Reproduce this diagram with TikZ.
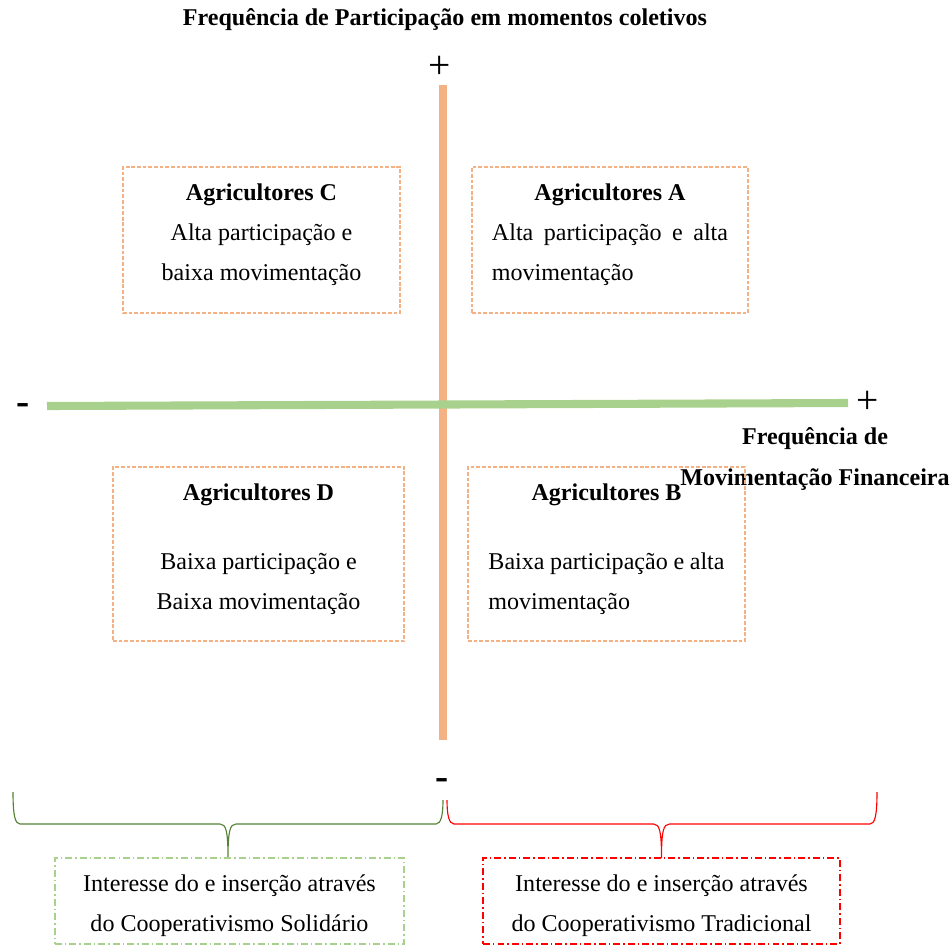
\documentclass[tikz,border=0pt]{standalone}
\usepackage{fontspec}
\setmainfont{Liberation Serif}
\definecolor{laranja}{HTML}{F4B183}
\definecolor{verdeclaro}{HTML}{A9D18E}
\definecolor{verdeescuro}{HTML}{548235}
\newlength\largura
\setlength\largura{125.6pt}
% chave: cor, x esquerda, x meio, x direita, y esquerda, y direita
\newcommand\chave[6]{%
  \draw[#1, line width=0.6pt] (#2,#5) .. controls (#2,815) and ({#2+2},824) .. ({#2+7},824)
    -- ({#3-8},824) .. controls ({#3-2},824) and (#3,831) .. (#3,858)
    .. controls (#3,831) and ({#3+2},824) .. ({#3+8},824)
    -- ({#4-7},824) .. controls ({#4-2},824) and (#4,815) .. (#4,#6);}

\begin{document}
\begin{tikzpicture}[x=0.532pt,y=-0.532pt,
    every node/.style={font=\fontsize{12.8}{21.3}\selectfont, inner sep=0pt},
    caixa/.style={draw=laranja, line width=0.7pt, dash pattern=on 2pt off 1pt},
    tracoponto/.style={line width=0.7pt, dash pattern=on 3.7pt off 1.6pt on 0.8pt off 1.6pt},
    sinal/.style={font=\fontsize{21}{21}\selectfont},
    menos/.style={font=\fontsize{21}{21}\selectfont\bfseries}]
    \useasboundingbox (0,0) rectangle (950,946);

    % eixos
    \draw[laranja, line width=4.3pt] (443,85) -- (443,740);
    \draw[verdeclaro, line width=4.3pt] (47,406) -- (848,403);

    \node[font=\fontsize{12.8}{21.3}\selectfont\bfseries] (eixoY) at (445,20) {Frequência de Participação em momentos coletivos};
    \node[font=\fontsize{12.8}{21.3}\selectfont\bfseries, align=center] (eixoX) at (815,459) {Frequência de\\Movimentação Financeira};
    \node[sinal] (maisY) at (440,67) {+};
    \node[sinal] (maisX) at (868,402) {+};
    \node[menos] (menosX) at (23,409) {-};
    \node[menos] (menosY) at (442,784) {-};

    % quadrantes
    \node[caixa, minimum width=147.4pt, minimum height=77.7pt] (caixaC) at (261.5,240) {};
    \node[caixa, minimum width=146.8pt, minimum height=77.7pt] (caixaA) at (610,240) {};
    \node[caixa, minimum width=154.8pt, minimum height=92.6pt] (caixaD) at (258.5,554) {};
    \node[caixa, minimum width=147.4pt, minimum height=92.6pt] (caixaB) at (606.5,554) {};

    \node[align=center] (textoC) at ([yshift=2.7pt]caixaC.center)
        {\textbf{Agricultores C}\\Alta participação e\\baixa movimentação};
    \node[align=left] (textoA) at ([yshift=2.7pt]caixaA.center)
        {\makebox[\largura]{\textbf{Agricultores A}}\\\makebox[\largura][s]{Alta participação e alta}\\movimentação};
    \node[align=center] (textoD) at ([yshift=2.5pt]caixaD.center)
        {\textbf{Agricultores D}\\[15pt]Baixa participação e\\Baixa movimentação};
    \node[align=left] (textoB) at ([yshift=2.5pt]caixaB.center)
        {\makebox[\largura]{\textbf{Agricultores B}}\\[15pt]\makebox[\largura][s]{Baixa participação e alta}\\movimentação};

    % chaves e caixas de baixo
    \chave{verdeescuro}{13}{228}{443}{792}{800}
    \chave{red}{447}{661.5}{877}{800}{792}

    \node[tracoponto, draw=verdeclaro, minimum width=185.7pt, minimum height=45.8pt] (solidario) at (229.5,901) {};
    \node[tracoponto, draw=red, minimum width=189.9pt, minimum height=45.8pt] (tradicional) at (661.5,901) {};
    \node[align=center] (textoSol) at ([yshift=-2.4pt]solidario.center)
        {Interesse do e inserção através\\do Cooperativismo Solidário};
    \node[align=center] (textoTrad) at ([yshift=-2.4pt]tradicional.center)
        {Interesse do e inserção através\\do Cooperativismo Tradicional};
\end{tikzpicture}
\end{document}
